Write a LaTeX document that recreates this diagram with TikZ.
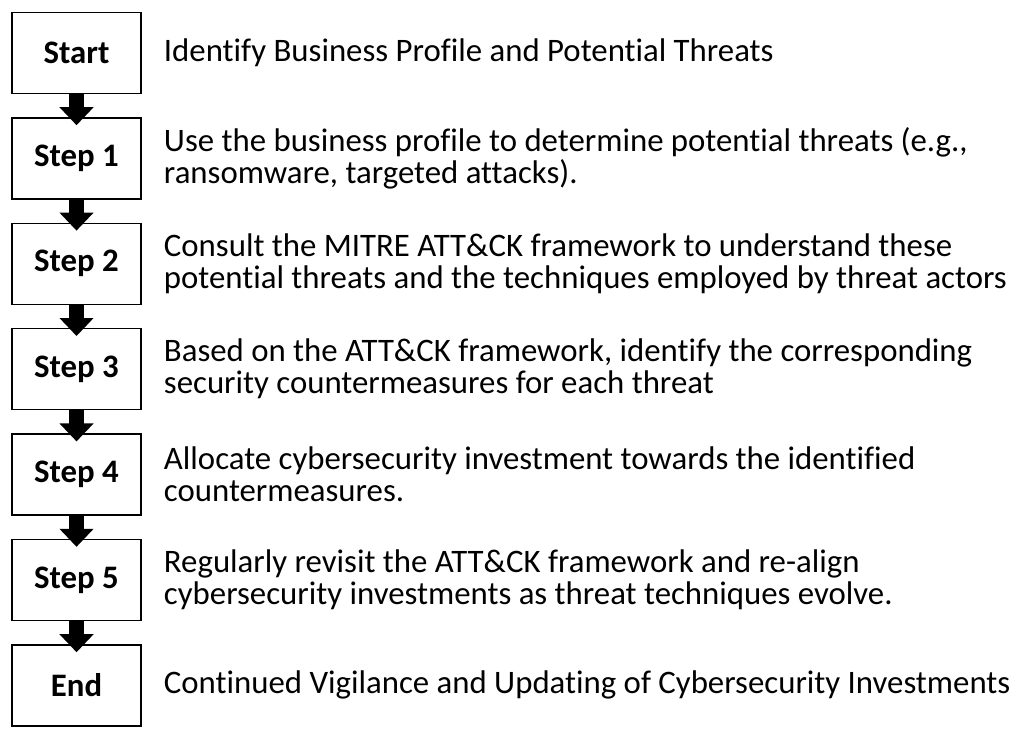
\documentclass[tikz,border=0pt]{standalone}
\usepackage{fontspec}
\setmainfont{Carlito}[Ligatures=NoCommon]
\usetikzlibrary{arrows.meta}
\usetikzlibrary{positioning}

\begin{document}
\begin{tikzpicture}[line join=miter,node distance=17.3pt,
  stepbox/.style={draw,line width=1pt,minimum width=96.75pt,minimum height=60.75pt,font=\fontsize{24.6}{28}\selectfont\bfseries},
  steptext/.style={anchor=west,inner sep=0pt,align=left,font=\fontsize{24.6}{24}\selectfont},
  flow/.style={line width=11.25pt,line cap=butt,-{Triangle[width=24.75pt,length=13.5pt]},shorten >=-6pt}]
\useasboundingbox (0,0) rectangle (767.25pt,-552pt);
% boxes on the left
\node[stepbox] (start) at (57.4pt,-39.75pt) {Start};
\node[stepbox,below=of start] (s1) {Step 1};
\node[stepbox,below=of s1] (s2) {Step 2};
\node[stepbox,below=of s2] (s3) {Step 3};
\node[stepbox,below=of s3] (s4) {Step 4};
\node[stepbox,below=of s4] (s5) {Step 5};
\node[stepbox,below=of s5] (end) {End};
% texts
\node[steptext,right=16.5pt of start] (tstart) {Identify Business Profile and Potential Threats};
\node[steptext,right=16.5pt of s1] (t1) {Use the business profile to determine potential threats (e.g.,\\ransomware, targeted attacks).};
\node[steptext,right=16.5pt of s2] (t2) {Consult the MITRE ATT\&CK framework to understand these\\potential threats and the techniques employed by threat actors};
\node[steptext,right=16.5pt of s3] (t3) {Based on the ATT\&CK framework, identify the corresponding\\security countermeasures for each threat};
\node[steptext,right=16.5pt of s4] (t4) {Allocate cybersecurity investment towards the identified\\countermeasures.};
\node[steptext,right=16.5pt of s5] (t5) {Regularly revisit the ATT\&CK framework and re-align\\cybersecurity investments as threat techniques evolve.};
\node[steptext,right=16.5pt of end] (tend) {Continued Vigilance and Updating of Cybersecurity Investments};
% arrows
\foreach \a/\b in {start/s1,s1/s2,s2/s3,s3/s4,s4/s5,s5/end}
\draw[flow] (\a) -- (\b);
\end{tikzpicture}
\end{document}
